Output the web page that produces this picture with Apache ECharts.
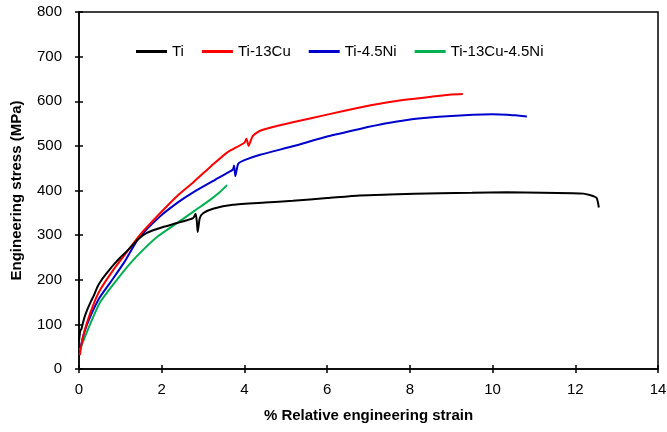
<!DOCTYPE html>
<html>
<head>
<meta charset="utf-8">
<script src="https://cdn.jsdelivr.net/npm/echarts@6/dist/echarts.min.js"></script>
<style>
  html, body { margin: 0; padding: 0; background: #fff; }
  #chart { width: 667px; height: 432px; }
</style>
</head>
<body>
<div id="chart"></div>
<script>
// tensile curves (strain %, stress MPa)
var seriesNames = ["Ti", "Ti-13Cu", "Ti-4.5Ni", "Ti-13Cu-4.5Ni"];
var seriesColors = ["#000000", "#ff0000", "#0000cc", "#00b050"];

var tiStrain = [0, 0.03, 0.06, 0.1, 0.14, 0.2, 0.28, 0.36, 0.45, 0.55, 0.7, 0.85, 1.0, 1.2, 1.43, 1.64, 1.96, 2.37, 2.76, 2.82, 2.85, 2.87, 2.92, 3.0, 3.24, 3.72, 4.5, 5.17, 6.0, 6.79, 7.5, 8.73, 9.5, 10.35, 11.2, 11.94, 12.2, 12.35, 12.45, 12.52, 12.57];
var tiStress = [62, 85, 90, 105, 118, 133, 150, 165, 185, 200, 218, 235, 250, 268, 291, 305, 316, 327, 338, 348, 330, 307, 338, 349, 359, 368, 373, 377, 383, 389, 391, 394, 395, 396, 395, 394, 393, 390, 387, 383, 362];

var cuStrain = [0.02, 0.08, 0.19, 0.35, 0.51, 0.83, 1.1, 1.47, 1.96, 2.4, 2.76, 3.2, 3.58, 4.0, 4.05, 4.1, 4.2, 4.38, 4.8, 5.17, 6.0, 6.79, 7.3, 7.93, 8.6, 9.0, 9.28];
var cuStress = [31, 65, 103, 145, 177, 222, 255, 300, 349, 390, 418, 455, 485, 507, 516, 500, 522, 534, 545, 553, 570, 586, 595, 604, 611, 615, 616];

var niStrain = [0.04, 0.12, 0.27, 0.5, 0.75, 1.1, 1.43, 1.96, 2.4, 2.76, 3.29, 3.6, 3.72, 3.75, 3.78, 3.85, 4.0, 4.38, 5.17, 6.0, 6.79, 7.4, 7.93, 8.7, 9.53, 10.0, 10.35, 10.6, 10.83];
var niStress = [49, 80, 117, 160, 193, 240, 291, 342, 374, 396, 424, 440, 447, 456, 432, 460, 468, 480, 499, 521, 538, 550, 558, 565, 570, 571, 570, 568, 566];

var cuNiStrain = [0.02, 0.1, 0.2, 0.35, 0.5, 0.75, 1.0, 1.25, 1.55, 1.9, 2.37, 2.8, 3.17, 3.4, 3.58];
var cuNiStress = [42, 62, 85, 118, 148, 180, 210, 238, 267, 297, 327, 355, 379, 396, 412];

function zip(xs, ys) {
  return xs.map(function (x, i) { return [x, ys[i]]; });
}

var curves = [
  zip(tiStrain, tiStress),
  zip(cuStrain, cuStress),
  zip(niStrain, niStress),
  zip(cuNiStrain, cuNiStress)
];

var font = "'Liberation Sans', Arial, sans-serif";

var chart = echarts.init(document.getElementById("chart"), null, { renderer: "canvas" });

chart.setOption({
  animation: false,
  backgroundColor: "#fff",
  grid: {
    left: 79, right: 9, top: 12, bottom: 63,
    outerBoundsMode: "none",
    containLabel: false,
    show: true, borderColor: "#000", borderWidth: 1.5
  },
  legend: {
    data: seriesNames,
    left: 131, top: 39,
    icon: "rect",
    itemWidth: 31, itemHeight: 3,
    itemGap: 18,
    textStyle: { fontFamily: font, fontSize: 15, color: "#000" }
  },
  xAxis: [{
    type: "value", min: 0, max: 14, interval: 2,
    name: "% Relative engineering strain",
    nameLocation: "middle", nameGap: 39,
    nameTextStyle: { fontFamily: font, fontSize: 15, fontWeight: "bold", color: "#000" },
    axisLine: { lineStyle: { color: "#000", width: 1.5 } },
    axisTick: { length: 4, lineStyle: { color: "#000", width: 1.5 } },
    axisLabel: { margin: 13, fontFamily: font, fontSize: 15, color: "#000" },
    splitLine: { show: false }
  }, {
    type: "value", min: 0, max: 14, interval: 2,
    position: "bottom", offset: 0,
    axisLine: { show: false },
    axisTick: { inside: true, length: 4, lineStyle: { color: "#000", width: 1.5 } },
    axisLabel: { show: false },
    splitLine: { show: false }
  }],
  yAxis: [{
    type: "value", min: 0, max: 800, interval: 100,
    name: "Engineering stress (MPa)",
    nameLocation: "middle", nameGap: 55,
    nameTextStyle: { fontFamily: font, fontSize: 15, fontWeight: "bold", color: "#000" },
    axisLine: { show: true, lineStyle: { color: "#000", width: 1.5 } },
    axisTick: { show: true, length: 4, lineStyle: { color: "#000", width: 1.5 } },
    axisLabel: { margin: 17, fontFamily: font, fontSize: 15, color: "#000" },
    splitLine: { show: false }
  }, {
    type: "value", min: 0, max: 800, interval: 100,
    position: "left", offset: 0,
    axisLine: { show: false },
    axisTick: { show: true, inside: true, length: 4, lineStyle: { color: "#000", width: 1.5 } },
    axisLabel: { show: false },
    splitLine: { show: false }
  }],
  series: curves.map(function (pts, i) {
    return {
      name: seriesNames[i],
      type: "line",
      data: pts,
      showSymbol: false,
      symbol: "none",
      smooth: 0.2,
      color: seriesColors[i],
      lineStyle: { width: 2, color: seriesColors[i] },
      z: 4 - i
    };
  })
});
</script>
</body>
</html>
